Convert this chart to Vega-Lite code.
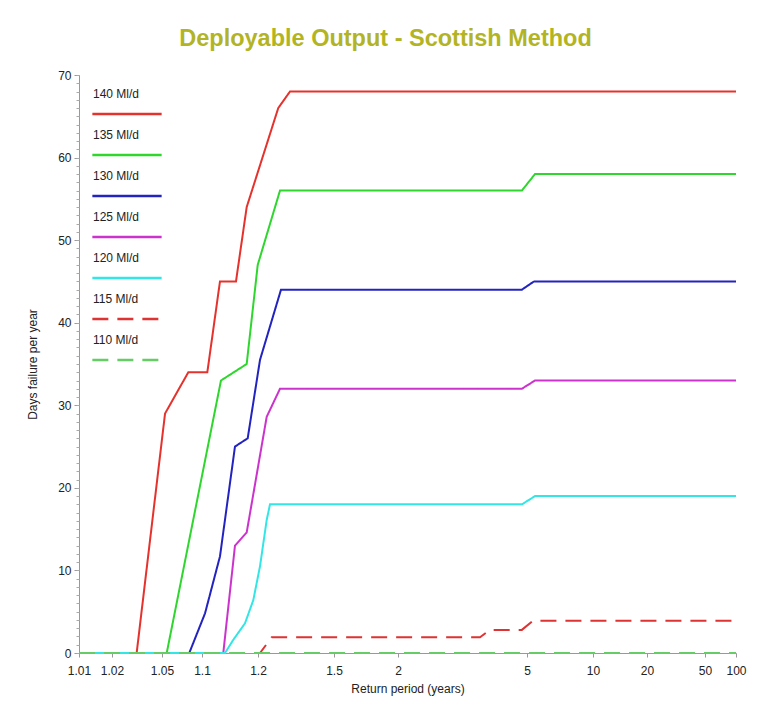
{
  "$schema": "https://vega.github.io/schema/vega-lite/v6.json",
  "width": 657,
  "height": 578,
  "autosize": {"type": "none"},
  "padding": {"left": 79, "top": 75, "right": 24, "bottom": 54},
  "background": "white",
  "config": {"view": {"stroke": null}, "font": "Liberation Sans", "style": {"guide-label": {"lineHeight": 39}}},
  "title": {"text": "Deployable Output - Scottish Method", "fontSize": 23.5, "fontWeight": "bold", "color": "#b2b424", "anchor": "middle", "frame": "group", "dx": -22, "offset": 19, "font": "Liberation Sans"},
  "data": {"values": [
    {"output": "140 Ml/d", "T": 1.01, "days": 0},
    {"output": "140 Ml/d", "T": 1.0348, "days": 0},
    {"output": "140 Ml/d", "T": 1.0538, "days": 29},
    {"output": "140 Ml/d", "T": 1.0829, "days": 34},
    {"output": "140 Ml/d", "T": 1.1095, "days": 34},
    {"output": "140 Ml/d", "T": 1.1321, "days": 45},
    {"output": "140 Ml/d", "T": 1.1607, "days": 45},
    {"output": "140 Ml/d", "T": 1.1798, "days": 54},
    {"output": "140 Ml/d", "T": 1.28, "days": 66},
    {"output": "140 Ml/d", "T": 1.3263, "days": 68},
    {"output": "140 Ml/d", "T": 100, "days": 68},
    {"output": "135 Ml/d", "T": 1.01, "days": 0},
    {"output": "135 Ml/d", "T": 1.0559, "days": 0},
    {"output": "135 Ml/d", "T": 1.1339, "days": 33},
    {"output": "135 Ml/d", "T": 1.1798, "days": 35},
    {"output": "135 Ml/d", "T": 1.1995, "days": 47},
    {"output": "135 Ml/d", "T": 1.2868, "days": 56},
    {"output": "135 Ml/d", "T": 4.88, "days": 56},
    {"output": "135 Ml/d", "T": 5.606, "days": 58},
    {"output": "135 Ml/d", "T": 100, "days": 58},
    {"output": "130 Ml/d", "T": 1.01, "days": 0},
    {"output": "130 Ml/d", "T": 1.0841, "days": 0},
    {"output": "130 Ml/d", "T": 1.1054, "days": 4.8},
    {"output": "130 Ml/d", "T": 1.1321, "days": 11.7},
    {"output": "130 Ml/d", "T": 1.1589, "days": 25},
    {"output": "130 Ml/d", "T": 1.1816, "days": 26},
    {"output": "130 Ml/d", "T": 1.2079, "days": 35.5},
    {"output": "130 Ml/d", "T": 1.2908, "days": 44},
    {"output": "130 Ml/d", "T": 4.88, "days": 44},
    {"output": "130 Ml/d", "T": 5.53, "days": 45},
    {"output": "130 Ml/d", "T": 100, "days": 45},
    {"output": "125 Ml/d", "T": 1.01, "days": 0},
    {"output": "125 Ml/d", "T": 1.138, "days": 0},
    {"output": "125 Ml/d", "T": 1.1589, "days": 13},
    {"output": "125 Ml/d", "T": 1.1798, "days": 14.6},
    {"output": "125 Ml/d", "T": 1.2343, "days": 28.6},
    {"output": "125 Ml/d", "T": 1.2868, "days": 32},
    {"output": "125 Ml/d", "T": 4.88, "days": 32},
    {"output": "125 Ml/d", "T": 5.606, "days": 33},
    {"output": "125 Ml/d", "T": 100, "days": 33},
    {"output": "120 Ml/d", "T": 1.01, "days": 0},
    {"output": "120 Ml/d", "T": 1.1411, "days": 0},
    {"output": "120 Ml/d", "T": 1.1559, "days": 1.6},
    {"output": "120 Ml/d", "T": 1.1768, "days": 3.6},
    {"output": "120 Ml/d", "T": 1.1916, "days": 6.4},
    {"output": "120 Ml/d", "T": 1.2079, "days": 10.5},
    {"output": "120 Ml/d", "T": 1.2343, "days": 16.1},
    {"output": "120 Ml/d", "T": 1.2474, "days": 18},
    {"output": "120 Ml/d", "T": 4.88, "days": 18},
    {"output": "120 Ml/d", "T": 5.606, "days": 19},
    {"output": "120 Ml/d", "T": 100, "days": 19},
    {"output": "115 Ml/d", "T": 1.01, "days": 0},
    {"output": "115 Ml/d", "T": 1.2079, "days": 0},
    {"output": "115 Ml/d", "T": 1.2541, "days": 1.9},
    {"output": "115 Ml/d", "T": 3.907, "days": 1.9},
    {"output": "115 Ml/d", "T": 4.14, "days": 2.8},
    {"output": "115 Ml/d", "T": 4.88, "days": 2.8},
    {"output": "115 Ml/d", "T": 5.45, "days": 3.9},
    {"output": "115 Ml/d", "T": 100, "days": 3.9},
    {"output": "110 Ml/d", "T": 1.01, "days": 0},
    {"output": "110 Ml/d", "T": 100, "days": 0}
  ]},
  "encoding": {
    "x": {
      "field": "T", "type": "quantitative",
      "scale": {"domain": [1.01, 1.02, 1.05, 1.1, 1.2, 1.5, 2, 5, 10, 20, 50, 100], "range": [0, 33, 83, 123, 179, 255, 319, 448, 514, 568, 626, 657], "nice": false, "zero": false},
      "axis": {"values": [1.01, 1.02, 1.05, 1.1, 1.2, 1.5, 2, 5, 10, 20, 50, 100], "format": ".3~g", "tickSize": 4, "tickColor": "#999999", "domainColor": "#999999", "labelFontSize": 12, "labelColor": "#222222", "labelPadding": 8, "labelOverlap": false, "labelFlush": false, "title": "Return period (years)", "titleFontSize": 12, "titleFontWeight": "normal", "titleColor": "#222222", "titlePadding": 7, "grid": false}
    }
  },
  "layer": [
    {
      "mark": {"type": "line", "strokeWidth": 2},
      "encoding": {
        "y": {"field": "days", "type": "quantitative", "scale": {"domain": [0, 70], "nice": false},
          "axis": {"orient": "left", "values": [0, 10, 20, 30, 40, 50, 60, 70], "tickSize": 5, "tickColor": "#999999", "domainColor": "#999999", "labelFontSize": 12, "labelColor": "#222222", "labelPadding": 3, "title": "Days failure per year", "titleFontSize": 12, "titleFontWeight": "normal", "titleColor": "#222222", "titlePadding": 18, "grid": false}},
        "color": {"field": "output", "type": "nominal",
          "scale": {"domain": ["140 Ml/d", "135 Ml/d", "130 Ml/d", "125 Ml/d", "120 Ml/d", "115 Ml/d", "110 Ml/d"], "range": ["#e5322c", "#2ed62e", "#2323c0", "#cc33cc", "#33e6e6", "#dd3333", "#66cc66"]},
          "legend": {"orient": "none", "legendX": 12, "legendY": 3, "title": null, "symbolType": "stroke", "symbolSize": 4800, "symbolStrokeWidth": 2.5, "labelOffset": -70, "labelBaseline": "line-bottom", "labelFontSize": 12, "labelColor": "#222222", "rowPadding": 0, "labelFont": "Liberation Sans"}},
        "strokeDash": {"field": "output", "type": "nominal",
          "scale": {"domain": ["140 Ml/d", "135 Ml/d", "130 Ml/d", "125 Ml/d", "120 Ml/d", "115 Ml/d", "110 Ml/d"], "range": [[1, 0], [1, 0], [1, 0], [1, 0], [1, 0], [16, 9], [16, 9]]},
          "legend": {"orient": "none", "legendX": 12, "legendY": 3, "title": null, "symbolType": "stroke", "symbolSize": 4800, "symbolStrokeWidth": 2.5, "labelOffset": -70, "labelBaseline": "line-bottom", "labelFontSize": 12, "labelColor": "#222222", "rowPadding": 0, "labelFont": "Liberation Sans"}}
      }
    },
    {
      "mark": {"type": "line", "opacity": 0},
      "encoding": {
        "y": {"field": "days", "type": "quantitative", "scale": {"domain": [0, 70], "nice": false},
          "axis": {"orient": "left", "values": [0,1,2,3,4,5,6,7,8,9,10,11,12,13,14,15,16,17,18,19,20,21,22,23,24,25,26,27,28,29,30,31,32,33,34,35,36,37,38,39,40,41,42,43,44,45,46,47,48,49,50,51,52,53,54,55,56,57,58,59,60,61,62,63,64,65,66,67,68,69,70], "tickSize": 3, "tickColor": "#aaaaaa", "labels": false, "domain": false, "title": null, "grid": false}},
        "detail": {"field": "output"}
      }
    }
  ],
  "resolve": {"axis": {"y": "independent"}}
}
